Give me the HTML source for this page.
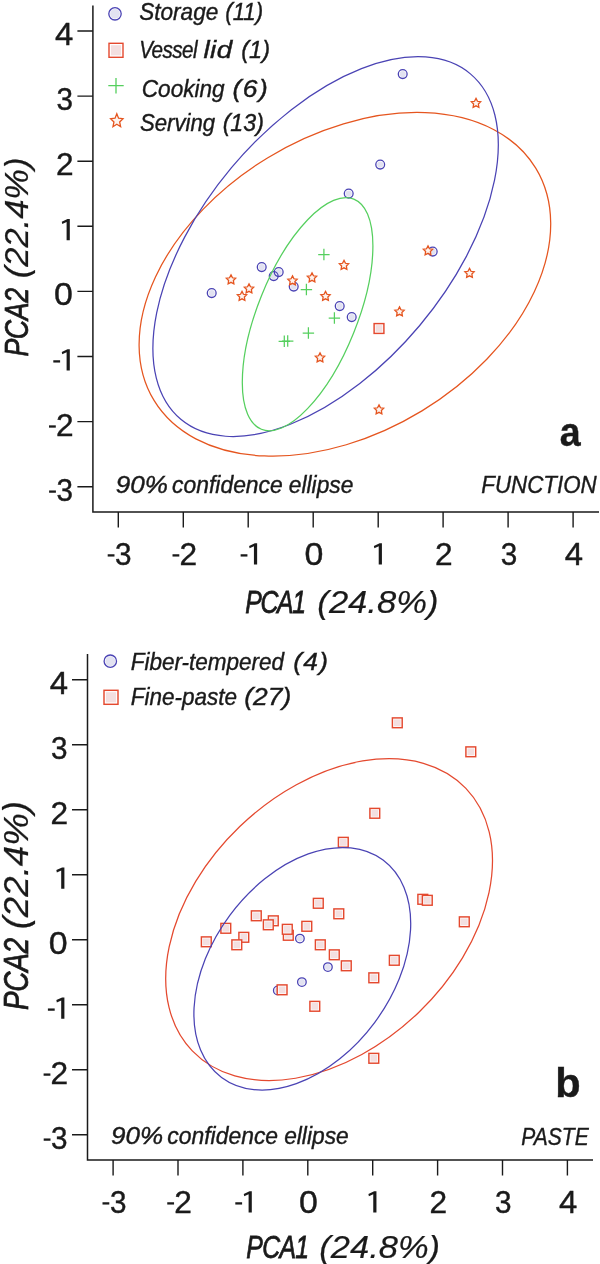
<!DOCTYPE html>
<html><head><meta charset="utf-8"><title>PCA</title>
<style>html,body{margin:0;padding:0;background:#fff}svg{display:block;will-change:transform}</style></head>
<body>
<svg width="600" height="1264" viewBox="0 0 600 1264" font-family="'Liberation Sans', sans-serif">
<rect width="600" height="1264" fill="#fff"/>
<path d="M92.9 5.5V512H599" fill="none" stroke="#1a1a1a" stroke-width="1.5"/>
<path d="M77.4 486.7H92.9M118.3 512V527.5" stroke="#1a1a1a" stroke-width="1.4" fill="none"/>
<rect x="49.10" y="490.45" width="6.8" height="2.3" fill="#1a1a1a"/><text transform="translate(56.49 500.70) scale(0.9733 1)" font-size="30.5" font-style="normal" font-weight="normal" fill="#1a1a1a" stroke="#1a1a1a" stroke-width="0.4">3</text>
<rect x="107.69" y="554.25" width="6.8" height="2.3" fill="#1a1a1a"/><text transform="translate(115.08 564.50) scale(0.9733 1)" font-size="30.5" font-style="normal" font-weight="normal" fill="#1a1a1a" stroke="#1a1a1a" stroke-width="0.4">3</text>
<path d="M77.4 421.6H92.9M183.3 512V527.5" stroke="#1a1a1a" stroke-width="1.4" fill="none"/>
<rect x="49.00" y="425.35" width="6.8" height="2.3" fill="#1a1a1a"/><text transform="translate(55.92 435.60) scale(1.0377 1)" font-size="30.5" font-style="normal" font-weight="normal" fill="#1a1a1a" stroke="#1a1a1a" stroke-width="0.4">2</text>
<rect x="172.51" y="554.25" width="6.8" height="2.3" fill="#1a1a1a"/><text transform="translate(179.43 564.50) scale(1.0377 1)" font-size="30.5" font-style="normal" font-weight="normal" fill="#1a1a1a" stroke="#1a1a1a" stroke-width="0.4">2</text>
<path d="M77.4 356.5H92.9M248.2 512V527.5" stroke="#1a1a1a" stroke-width="1.4" fill="none"/>
<rect x="53.30" y="360.25" width="6.8" height="2.3" fill="#1a1a1a"/><path d="M69.80 349.30V370.50H66.60V352.20L62.25 354.30L61.75 351.90L67.50 349.30Z" fill="#1a1a1a"/>
<rect x="240.63" y="554.25" width="6.8" height="2.3" fill="#1a1a1a"/><path d="M257.13 543.30V564.50H253.93V546.20L249.58 548.30L249.08 545.90L254.83 543.30Z" fill="#1a1a1a"/>
<path d="M77.4 291.4H92.9M313.2 512V527.5" stroke="#1a1a1a" stroke-width="1.4" fill="none"/>
<text transform="translate(54.04 305.40) scale(1.1124 1)" font-size="30.5" font-style="normal" font-weight="normal" fill="#1a1a1a" stroke="#1a1a1a" stroke-width="0.4">0</text>
<text transform="translate(304.44 564.50) scale(1.1124 1)" font-size="30.5" font-style="normal" font-weight="normal" fill="#1a1a1a" stroke="#1a1a1a" stroke-width="0.4">0</text>
<path d="M77.4 226.3H92.9M378.2 512V527.5" stroke="#1a1a1a" stroke-width="1.4" fill="none"/>
<path d="M69.80 219.10V240.30H66.60V222.00L62.25 224.10L61.75 221.70L67.50 219.10Z" fill="#1a1a1a"/>
<path d="M381.92 543.30V564.50H378.72V546.20L374.37 548.30L373.87 545.90L379.62 543.30Z" fill="#1a1a1a"/>
<path d="M77.4 161.2H92.9M443.1 512V527.5" stroke="#1a1a1a" stroke-width="1.4" fill="none"/>
<text transform="translate(55.92 175.20) scale(1.0377 1)" font-size="30.5" font-style="normal" font-weight="normal" fill="#1a1a1a" stroke="#1a1a1a" stroke-width="0.4">2</text>
<text transform="translate(435.06 564.50) scale(1.0377 1)" font-size="30.5" font-style="normal" font-weight="normal" fill="#1a1a1a" stroke="#1a1a1a" stroke-width="0.4">2</text>
<path d="M77.4 96.1H92.9M508.1 512V527.5" stroke="#1a1a1a" stroke-width="1.4" fill="none"/>
<text transform="translate(56.49 110.10) scale(0.9733 1)" font-size="30.5" font-style="normal" font-weight="normal" fill="#1a1a1a" stroke="#1a1a1a" stroke-width="0.4">3</text>
<text transform="translate(500.65 564.50) scale(0.9733 1)" font-size="30.5" font-style="normal" font-weight="normal" fill="#1a1a1a" stroke="#1a1a1a" stroke-width="0.4">3</text>
<path d="M77.4 31.0H92.9M573.1 512V527.5" stroke="#1a1a1a" stroke-width="1.4" fill="none"/>
<text transform="translate(55.06 45.00) scale(1.0777 1)" font-size="30.5" font-style="normal" font-weight="normal" fill="#1a1a1a" stroke="#1a1a1a" stroke-width="0.4">4</text>
<text transform="translate(564.74 564.50) scale(1.0777 1)" font-size="30.5" font-style="normal" font-weight="normal" fill="#1a1a1a" stroke="#1a1a1a" stroke-width="0.4">4</text>
<circle cx="402.7" cy="74.1" r="3.1" fill="#e2e2f1"/>
<circle cx="380.2" cy="164.6" r="3.1" fill="#e2e2f1"/>
<circle cx="348.7" cy="193.6" r="3.1" fill="#e2e2f1"/>
<circle cx="432.7" cy="251.6" r="3.1" fill="#e2e2f1"/>
<circle cx="261.7" cy="267.1" r="3.1" fill="#e2e2f1"/>
<circle cx="278.7" cy="272.1" r="3.1" fill="#e2e2f1"/>
<circle cx="273.7" cy="276.1" r="3.1" fill="#e2e2f1"/>
<circle cx="293.7" cy="286.6" r="3.1" fill="#e2e2f1"/>
<circle cx="211.7" cy="293.1" r="3.1" fill="#e2e2f1"/>
<circle cx="339.7" cy="306.1" r="3.1" fill="#e2e2f1"/>
<circle cx="351.7" cy="317.1" r="3.1" fill="#e2e2f1"/>
<circle cx="402.7" cy="74.1" r="4.4" fill="none" stroke="#4a43b4" stroke-width="1.3"/>
<circle cx="380.2" cy="164.6" r="4.4" fill="none" stroke="#4a43b4" stroke-width="1.3"/>
<circle cx="348.7" cy="193.6" r="4.4" fill="none" stroke="#4a43b4" stroke-width="1.3"/>
<circle cx="432.7" cy="251.6" r="4.4" fill="none" stroke="#4a43b4" stroke-width="1.3"/>
<circle cx="261.7" cy="267.1" r="4.4" fill="none" stroke="#4a43b4" stroke-width="1.3"/>
<circle cx="278.7" cy="272.1" r="4.4" fill="none" stroke="#4a43b4" stroke-width="1.3"/>
<circle cx="273.7" cy="276.1" r="4.4" fill="none" stroke="#4a43b4" stroke-width="1.3"/>
<circle cx="293.7" cy="286.6" r="4.4" fill="none" stroke="#4a43b4" stroke-width="1.3"/>
<circle cx="211.7" cy="293.1" r="4.4" fill="none" stroke="#4a43b4" stroke-width="1.3"/>
<circle cx="339.7" cy="306.1" r="4.4" fill="none" stroke="#4a43b4" stroke-width="1.3"/>
<circle cx="351.7" cy="317.1" r="4.4" fill="none" stroke="#4a43b4" stroke-width="1.3"/>
<rect x="374.1" y="323.6" width="9.8" height="9.8" fill="#fff" stroke="#e4492f" stroke-width="1.45"/><rect x="375.6" y="325.1" width="6.8" height="6.8" fill="#f3dfe0"/>
<path d="M318.2 254.5H329.6M323.9 248.8V260.2" stroke="#55cf5e" stroke-width="1.25" fill="none"/>
<path d="M300.7 289.5H312.1M306.4 283.8V295.2" stroke="#55cf5e" stroke-width="1.25" fill="none"/>
<path d="M328.7 318.0H340.1M334.4 312.3V323.7" stroke="#55cf5e" stroke-width="1.25" fill="none"/>
<path d="M302.7 333.0H314.1M308.4 327.3V338.7" stroke="#55cf5e" stroke-width="1.25" fill="none"/>
<path d="M278.6 341.3H290.0M284.3 335.6V347.0" stroke="#55cf5e" stroke-width="1.25" fill="none"/>
<path d="M282.0 341.0H293.4M287.7 335.3V346.7" stroke="#55cf5e" stroke-width="1.25" fill="none"/>
<polygon points="476.00,98.40 477.47,101.28 480.66,101.79 478.38,104.07 478.88,107.26 476.00,105.80 473.12,107.26 473.62,104.07 471.34,101.79 474.53,101.28" fill="#fdf3ee" stroke="#e5551f" stroke-width="1.3" stroke-linejoin="miter"/>
<polygon points="231.00,274.90 232.47,277.78 235.66,278.29 233.38,280.57 233.88,283.76 231.00,282.30 228.12,283.76 228.62,280.57 226.34,278.29 229.53,277.78" fill="#fdf3ee" stroke="#e5551f" stroke-width="1.3" stroke-linejoin="miter"/>
<polygon points="249.00,283.90 250.47,286.78 253.66,287.29 251.38,289.57 251.88,292.76 249.00,291.30 246.12,292.76 246.62,289.57 244.34,287.29 247.53,286.78" fill="#fdf3ee" stroke="#e5551f" stroke-width="1.3" stroke-linejoin="miter"/>
<polygon points="242.00,291.40 243.47,294.28 246.66,294.79 244.38,297.07 244.88,300.26 242.00,298.80 239.12,300.26 239.62,297.07 237.34,294.79 240.53,294.28" fill="#fdf3ee" stroke="#e5551f" stroke-width="1.3" stroke-linejoin="miter"/>
<polygon points="292.50,275.90 293.97,278.78 297.16,279.29 294.88,281.57 295.38,284.76 292.50,283.30 289.62,284.76 290.12,281.57 287.84,279.29 291.03,278.78" fill="#fdf3ee" stroke="#e5551f" stroke-width="1.3" stroke-linejoin="miter"/>
<polygon points="312.00,272.90 313.47,275.78 316.66,276.29 314.38,278.57 314.88,281.76 312.00,280.30 309.12,281.76 309.62,278.57 307.34,276.29 310.53,275.78" fill="#fdf3ee" stroke="#e5551f" stroke-width="1.3" stroke-linejoin="miter"/>
<polygon points="344.00,260.40 345.47,263.28 348.66,263.79 346.38,266.07 346.88,269.26 344.00,267.80 341.12,269.26 341.62,266.07 339.34,263.79 342.53,263.28" fill="#fdf3ee" stroke="#e5551f" stroke-width="1.3" stroke-linejoin="miter"/>
<polygon points="325.50,291.40 326.97,294.28 330.16,294.79 327.88,297.07 328.38,300.26 325.50,298.80 322.62,300.26 323.12,297.07 320.84,294.79 324.03,294.28" fill="#fdf3ee" stroke="#e5551f" stroke-width="1.3" stroke-linejoin="miter"/>
<polygon points="428.00,245.90 429.47,248.78 432.66,249.29 430.38,251.57 430.88,254.76 428.00,253.30 425.12,254.76 425.62,251.57 423.34,249.29 426.53,248.78" fill="#fdf3ee" stroke="#e5551f" stroke-width="1.3" stroke-linejoin="miter"/>
<polygon points="469.50,268.40 470.97,271.28 474.16,271.79 471.88,274.07 472.38,277.26 469.50,275.80 466.62,277.26 467.12,274.07 464.84,271.79 468.03,271.28" fill="#fdf3ee" stroke="#e5551f" stroke-width="1.3" stroke-linejoin="miter"/>
<polygon points="399.50,306.90 400.97,309.78 404.16,310.29 401.88,312.57 402.38,315.76 399.50,314.30 396.62,315.76 397.12,312.57 394.84,310.29 398.03,309.78" fill="#fdf3ee" stroke="#e5551f" stroke-width="1.3" stroke-linejoin="miter"/>
<polygon points="320.00,352.90 321.47,355.78 324.66,356.29 322.38,358.57 322.88,361.76 320.00,360.30 317.12,361.76 317.62,358.57 315.34,356.29 318.53,355.78" fill="#fdf3ee" stroke="#e5551f" stroke-width="1.3" stroke-linejoin="miter"/>
<polygon points="379.00,404.90 380.47,407.78 383.66,408.29 381.38,410.57 381.88,413.76 379.00,412.30 376.12,413.76 376.62,410.57 374.34,408.29 377.53,407.78" fill="#fdf3ee" stroke="#e5551f" stroke-width="1.3" stroke-linejoin="miter"/>
<ellipse cx="344.9" cy="284.3" rx="223.4" ry="148.2" transform="rotate(148.68 344.9 284.3)" fill="none" stroke="#e5551f" stroke-width="1.25"/>
<ellipse cx="325.6" cy="246.6" rx="225.4" ry="122.8" transform="rotate(129.97 325.6 246.6)" fill="none" stroke="#4a43b4" stroke-width="1.25"/>
<ellipse cx="307.6" cy="314.2" rx="124.0" ry="49.7" transform="rotate(111.89 307.6 314.2)" fill="none" stroke="#55cf5e" stroke-width="1.25"/>
<circle cx="115.0" cy="13.8" r="4.9" fill="#e2e2f1"/><circle cx="115.0" cy="13.8" r="6.2" fill="none" stroke="#4a43b4" stroke-width="1.3"/>
<rect x="109.0" y="43.3" width="14" height="14" fill="#fff" stroke="#e4492f" stroke-width="1.4"/><rect x="110.9" y="45.2" width="10.2" height="10.2" fill="#f3dfe0"/>
<path d="M108.3 85.7H123.7M116.0 78.0V93.4" stroke="#55cf5e" stroke-width="1.3" fill="none"/>
<polygon points="116.80,113.75 118.56,118.23 122.98,118.69 119.65,121.92 120.62,126.68 116.80,124.20 112.98,126.68 113.95,121.92 110.62,118.69 115.04,118.23" fill="#fdf3ee" stroke="#e5551f" stroke-width="1.3" stroke-linejoin="miter"/>
<text transform="translate(139.18 20.00) scale(0.9423 1)" font-size="24" font-style="italic" font-weight="normal" fill="#1a1a1a" stroke="#1a1a1a" stroke-width="0.4">Storage</text>
<text transform="translate(225.24 20.00) scale(0.9274 1)" font-size="24" font-style="italic" font-weight="normal" fill="#1a1a1a" stroke="#1a1a1a" stroke-width="0.4">(11)</text>
<text transform="translate(139.19 58.00) scale(0.8600 1)" font-size="24" font-style="italic" font-weight="normal" fill="#1a1a1a" letter-spacing="-0.664" stroke="#1a1a1a" stroke-width="0.4">Vessel</text>
<text transform="translate(203.38 58.00) scale(1.1600 1)" font-size="24" font-style="italic" font-weight="normal" fill="#1a1a1a" letter-spacing="0.436" stroke="#1a1a1a" stroke-width="0.4">lid</text>
<text transform="translate(241.18 58.00) scale(0.9828 1)" font-size="24" font-style="italic" font-weight="normal" fill="#1a1a1a" stroke="#1a1a1a" stroke-width="0.4">(1)</text>
<text transform="translate(141.76 96.75) scale(0.9420 1)" font-size="24" font-style="italic" font-weight="normal" fill="#1a1a1a" stroke="#1a1a1a" stroke-width="0.4">Cooking</text>
<text transform="translate(232.50 96.75) scale(1.1000 1)" font-size="24" font-style="italic" font-weight="normal" fill="#1a1a1a" letter-spacing="1.393" stroke="#1a1a1a" stroke-width="0.4">(6)</text>
<text transform="translate(139.89 131.25) scale(0.9252 1)" font-size="24" font-style="italic" font-weight="normal" fill="#1a1a1a" stroke="#1a1a1a" stroke-width="0.4">Serving</text>
<text transform="translate(222.65 131.25) scale(0.9668 1)" font-size="24" font-style="italic" font-weight="normal" fill="#1a1a1a" stroke="#1a1a1a" stroke-width="0.4">(13)</text>
<text transform="translate(115.79 493.20) scale(1.0844 1)" font-size="24" font-style="italic" font-weight="normal" fill="#1a1a1a" stroke="#1a1a1a" stroke-width="0.4">90%</text>
<text transform="translate(172.06 493.20) scale(0.9544 1)" font-size="24" font-style="italic" font-weight="normal" fill="#1a1a1a" stroke="#1a1a1a" stroke-width="0.4">confidence</text>
<text transform="translate(288.86 493.20) scale(0.9485 1)" font-size="24" font-style="italic" font-weight="normal" fill="#1a1a1a" stroke="#1a1a1a" stroke-width="0.4">ellipse</text>
<text transform="translate(481.23 492.80) scale(0.9319 1)" font-size="24" font-style="italic" font-weight="normal" fill="#1a1a1a" stroke="#1a1a1a" stroke-width="0.4">FUNCTION</text>
<text transform="translate(559.87 446.40) scale(0.9390 1)" font-size="40" font-style="normal" font-weight="bold" fill="#1a1a1a" stroke="#1a1a1a" stroke-width="0.4">a</text>
<text transform="translate(245.26 612.60) scale(0.8000 1)" font-size="31" font-style="italic" font-weight="normal" fill="#1a1a1a" letter-spacing="-1.641" stroke="#1a1a1a" stroke-width="0.75">PCA1</text>
<text transform="translate(317.36 612.60) scale(1.1163 1)" font-size="31" font-style="italic" font-weight="normal" fill="#1a1a1a" stroke="#1a1a1a" stroke-width="0.2">(24.8%)</text>
<text transform="translate(27.50 356.60) rotate(-90) scale(0.8000 1)" font-size="33.5" font-style="italic" font-weight="normal" fill="#1a1a1a" letter-spacing="-0.545" stroke="#1a1a1a" stroke-width="0.75">PCA2</text>
<text transform="translate(27.50 278.24) rotate(-90) scale(1.0295 1)" font-size="33.5" font-style="italic" font-weight="normal" fill="#1a1a1a" stroke="#1a1a1a" stroke-width="0.2">(22.4%)</text>
<path d="M87.5 654V1160H593" fill="none" stroke="#1a1a1a" stroke-width="1.5"/>
<path d="M72.0 1134.7H87.5M113.1 1160V1175.5" stroke="#1a1a1a" stroke-width="1.4" fill="none"/>
<rect x="43.70" y="1138.45" width="6.8" height="2.3" fill="#1a1a1a"/><text transform="translate(51.09 1148.70) scale(0.9733 1)" font-size="30.5" font-style="normal" font-weight="normal" fill="#1a1a1a" stroke="#1a1a1a" stroke-width="0.4">3</text>
<rect x="102.50" y="1202.25" width="6.8" height="2.3" fill="#1a1a1a"/><text transform="translate(109.89 1212.50) scale(0.9733 1)" font-size="30.5" font-style="normal" font-weight="normal" fill="#1a1a1a" stroke="#1a1a1a" stroke-width="0.4">3</text>
<path d="M72.0 1069.7H87.5M178.0 1160V1175.5" stroke="#1a1a1a" stroke-width="1.4" fill="none"/>
<rect x="43.60" y="1073.45" width="6.8" height="2.3" fill="#1a1a1a"/><text transform="translate(50.52 1083.70) scale(1.0377 1)" font-size="30.5" font-style="normal" font-weight="normal" fill="#1a1a1a" stroke="#1a1a1a" stroke-width="0.4">2</text>
<rect x="167.25" y="1202.25" width="6.8" height="2.3" fill="#1a1a1a"/><text transform="translate(174.17 1212.50) scale(1.0377 1)" font-size="30.5" font-style="normal" font-weight="normal" fill="#1a1a1a" stroke="#1a1a1a" stroke-width="0.4">2</text>
<path d="M72.0 1004.7H87.5M242.9 1160V1175.5" stroke="#1a1a1a" stroke-width="1.4" fill="none"/>
<rect x="47.90" y="1008.45" width="6.8" height="2.3" fill="#1a1a1a"/><path d="M64.40 997.50V1018.70H61.20V1000.40L56.85 1002.50L56.35 1000.10L62.10 997.50Z" fill="#1a1a1a"/>
<rect x="235.30" y="1202.25" width="6.8" height="2.3" fill="#1a1a1a"/><path d="M251.80 1191.30V1212.50H248.60V1194.20L244.25 1196.30L243.75 1193.90L249.50 1191.30Z" fill="#1a1a1a"/>
<path d="M72.0 939.7H87.5M307.8 1160V1175.5" stroke="#1a1a1a" stroke-width="1.4" fill="none"/>
<text transform="translate(48.64 953.70) scale(1.1124 1)" font-size="30.5" font-style="normal" font-weight="normal" fill="#1a1a1a" stroke="#1a1a1a" stroke-width="0.4">0</text>
<text transform="translate(299.04 1212.50) scale(1.1124 1)" font-size="30.5" font-style="normal" font-weight="normal" fill="#1a1a1a" stroke="#1a1a1a" stroke-width="0.4">0</text>
<path d="M72.0 874.7H87.5M372.7 1160V1175.5" stroke="#1a1a1a" stroke-width="1.4" fill="none"/>
<path d="M64.40 867.50V888.70H61.20V870.40L56.85 872.50L56.35 870.10L62.10 867.50Z" fill="#1a1a1a"/>
<path d="M376.45 1191.30V1212.50H373.25V1194.20L368.90 1196.30L368.40 1193.90L374.15 1191.30Z" fill="#1a1a1a"/>
<path d="M72.0 809.7H87.5M437.6 1160V1175.5" stroke="#1a1a1a" stroke-width="1.4" fill="none"/>
<text transform="translate(50.52 823.70) scale(1.0377 1)" font-size="30.5" font-style="normal" font-weight="normal" fill="#1a1a1a" stroke="#1a1a1a" stroke-width="0.4">2</text>
<text transform="translate(429.52 1212.50) scale(1.0377 1)" font-size="30.5" font-style="normal" font-weight="normal" fill="#1a1a1a" stroke="#1a1a1a" stroke-width="0.4">2</text>
<path d="M72.0 744.7H87.5M502.5 1160V1175.5" stroke="#1a1a1a" stroke-width="1.4" fill="none"/>
<text transform="translate(51.09 758.70) scale(0.9733 1)" font-size="30.5" font-style="normal" font-weight="normal" fill="#1a1a1a" stroke="#1a1a1a" stroke-width="0.4">3</text>
<text transform="translate(495.04 1212.50) scale(0.9733 1)" font-size="30.5" font-style="normal" font-weight="normal" fill="#1a1a1a" stroke="#1a1a1a" stroke-width="0.4">3</text>
<path d="M72.0 679.7H87.5M567.4 1160V1175.5" stroke="#1a1a1a" stroke-width="1.4" fill="none"/>
<text transform="translate(49.66 693.70) scale(1.0777 1)" font-size="30.5" font-style="normal" font-weight="normal" fill="#1a1a1a" stroke="#1a1a1a" stroke-width="0.4">4</text>
<text transform="translate(559.06 1212.50) scale(1.0777 1)" font-size="30.5" font-style="normal" font-weight="normal" fill="#1a1a1a" stroke="#1a1a1a" stroke-width="0.4">4</text>
<circle cx="299.9" cy="938.6" r="3.0" fill="#e2e2f1"/><circle cx="299.9" cy="938.6" r="4.3" fill="none" stroke="#4a43b4" stroke-width="1.3"/>
<circle cx="327.9" cy="967.1" r="3.0" fill="#e2e2f1"/><circle cx="327.9" cy="967.1" r="4.3" fill="none" stroke="#4a43b4" stroke-width="1.3"/>
<circle cx="301.9" cy="982.1" r="3.0" fill="#e2e2f1"/><circle cx="301.9" cy="982.1" r="4.3" fill="none" stroke="#4a43b4" stroke-width="1.3"/>
<circle cx="277.8" cy="990.4" r="3.0" fill="#e2e2f1"/><circle cx="277.8" cy="990.4" r="4.3" fill="none" stroke="#4a43b4" stroke-width="1.3"/>
<rect x="392.4" y="717.9" width="9.8" height="9.8" fill="#fff" stroke="#e4492f" stroke-width="1.45"/><rect x="393.9" y="719.4" width="6.8" height="6.8" fill="#f3dfe0"/>
<rect x="369.9" y="808.4" width="9.8" height="9.8" fill="#fff" stroke="#e4492f" stroke-width="1.45"/><rect x="371.4" y="809.9" width="6.8" height="6.8" fill="#f3dfe0"/>
<rect x="338.4" y="837.4" width="9.8" height="9.8" fill="#fff" stroke="#e4492f" stroke-width="1.45"/><rect x="339.9" y="838.9" width="6.8" height="6.8" fill="#f3dfe0"/>
<rect x="251.4" y="910.9" width="9.8" height="9.8" fill="#fff" stroke="#e4492f" stroke-width="1.45"/><rect x="252.9" y="912.4" width="6.8" height="6.8" fill="#f3dfe0"/>
<rect x="268.4" y="915.9" width="9.8" height="9.8" fill="#fff" stroke="#e4492f" stroke-width="1.45"/><rect x="269.9" y="917.4" width="6.8" height="6.8" fill="#f3dfe0"/>
<rect x="263.4" y="919.9" width="9.8" height="9.8" fill="#fff" stroke="#e4492f" stroke-width="1.45"/><rect x="264.9" y="921.4" width="6.8" height="6.8" fill="#f3dfe0"/>
<rect x="283.4" y="930.4" width="9.8" height="9.8" fill="#fff" stroke="#e4492f" stroke-width="1.45"/><rect x="284.9" y="931.9" width="6.8" height="6.8" fill="#f3dfe0"/>
<rect x="201.4" y="936.9" width="9.8" height="9.8" fill="#fff" stroke="#e4492f" stroke-width="1.45"/><rect x="202.9" y="938.4" width="6.8" height="6.8" fill="#f3dfe0"/>
<rect x="329.4" y="949.9" width="9.8" height="9.8" fill="#fff" stroke="#e4492f" stroke-width="1.45"/><rect x="330.9" y="951.4" width="6.8" height="6.8" fill="#f3dfe0"/>
<rect x="341.4" y="960.9" width="9.8" height="9.8" fill="#fff" stroke="#e4492f" stroke-width="1.45"/><rect x="342.9" y="962.4" width="6.8" height="6.8" fill="#f3dfe0"/>
<rect x="465.9" y="746.9" width="9.8" height="9.8" fill="#fff" stroke="#e4492f" stroke-width="1.45"/><rect x="467.4" y="748.4" width="6.8" height="6.8" fill="#f3dfe0"/>
<rect x="220.9" y="923.4" width="9.8" height="9.8" fill="#fff" stroke="#e4492f" stroke-width="1.45"/><rect x="222.4" y="924.9" width="6.8" height="6.8" fill="#f3dfe0"/>
<rect x="238.9" y="932.4" width="9.8" height="9.8" fill="#fff" stroke="#e4492f" stroke-width="1.45"/><rect x="240.4" y="933.9" width="6.8" height="6.8" fill="#f3dfe0"/>
<rect x="231.9" y="939.9" width="9.8" height="9.8" fill="#fff" stroke="#e4492f" stroke-width="1.45"/><rect x="233.4" y="941.4" width="6.8" height="6.8" fill="#f3dfe0"/>
<rect x="282.4" y="924.4" width="9.8" height="9.8" fill="#fff" stroke="#e4492f" stroke-width="1.45"/><rect x="283.9" y="925.9" width="6.8" height="6.8" fill="#f3dfe0"/>
<rect x="301.9" y="921.4" width="9.8" height="9.8" fill="#fff" stroke="#e4492f" stroke-width="1.45"/><rect x="303.4" y="922.9" width="6.8" height="6.8" fill="#f3dfe0"/>
<rect x="333.9" y="908.9" width="9.8" height="9.8" fill="#fff" stroke="#e4492f" stroke-width="1.45"/><rect x="335.4" y="910.4" width="6.8" height="6.8" fill="#f3dfe0"/>
<rect x="315.4" y="939.9" width="9.8" height="9.8" fill="#fff" stroke="#e4492f" stroke-width="1.45"/><rect x="316.9" y="941.4" width="6.8" height="6.8" fill="#f3dfe0"/>
<rect x="417.9" y="894.4" width="9.8" height="9.8" fill="#fff" stroke="#e4492f" stroke-width="1.45"/><rect x="419.4" y="895.9" width="6.8" height="6.8" fill="#f3dfe0"/>
<rect x="459.4" y="916.9" width="9.8" height="9.8" fill="#fff" stroke="#e4492f" stroke-width="1.45"/><rect x="460.9" y="918.4" width="6.8" height="6.8" fill="#f3dfe0"/>
<rect x="389.4" y="955.4" width="9.8" height="9.8" fill="#fff" stroke="#e4492f" stroke-width="1.45"/><rect x="390.9" y="956.9" width="6.8" height="6.8" fill="#f3dfe0"/>
<rect x="309.9" y="1001.4" width="9.8" height="9.8" fill="#fff" stroke="#e4492f" stroke-width="1.45"/><rect x="311.4" y="1002.9" width="6.8" height="6.8" fill="#f3dfe0"/>
<rect x="368.9" y="1053.4" width="9.8" height="9.8" fill="#fff" stroke="#e4492f" stroke-width="1.45"/><rect x="370.4" y="1054.9" width="6.8" height="6.8" fill="#f3dfe0"/>
<rect x="368.9" y="972.9" width="9.8" height="9.8" fill="#fff" stroke="#e4492f" stroke-width="1.45"/><rect x="370.4" y="974.4" width="6.8" height="6.8" fill="#f3dfe0"/>
<rect x="313.4" y="898.4" width="9.8" height="9.8" fill="#fff" stroke="#e4492f" stroke-width="1.45"/><rect x="314.9" y="899.9" width="6.8" height="6.8" fill="#f3dfe0"/>
<rect x="277.2" y="984.9" width="9.8" height="9.8" fill="#fff" stroke="#e4492f" stroke-width="1.45"/><rect x="278.7" y="986.4" width="6.8" height="6.8" fill="#f3dfe0"/>
<rect x="422.4" y="895.4" width="9.8" height="9.8" fill="#fff" stroke="#e4492f" stroke-width="1.45"/><rect x="423.9" y="896.9" width="6.8" height="6.8" fill="#f3dfe0"/>
<ellipse cx="329.1" cy="919.6" rx="189.6" ry="129.0" transform="rotate(136.18 329.1 919.6)" fill="none" stroke="#e4492f" stroke-width="1.25"/>
<ellipse cx="302.3" cy="968.8" rx="135.4" ry="90.1" transform="rotate(126.61 302.3 968.8)" fill="none" stroke="#4a43b4" stroke-width="1.25"/>
<circle cx="110.3" cy="661.2" r="4.9" fill="#e2e2f1"/><circle cx="110.3" cy="661.2" r="6.2" fill="none" stroke="#4a43b4" stroke-width="1.3"/>
<rect x="104.0" y="690.3" width="14" height="14" fill="#fff" stroke="#e4492f" stroke-width="1.45"/><rect x="105.9" y="692.2" width="10.2" height="10.2" fill="#f3dfe0"/>
<text transform="translate(130.72 669.75) scale(0.9379 1)" font-size="24" font-style="italic" font-weight="normal" fill="#1a1a1a" stroke="#1a1a1a" stroke-width="0.4">Fiber-tempered</text>
<text transform="translate(293.25 669.75) scale(1.1000 1)" font-size="24" font-style="italic" font-weight="normal" fill="#1a1a1a" letter-spacing="1.120" stroke="#1a1a1a" stroke-width="0.4">(4)</text>
<text transform="translate(130.72 704.60) scale(0.9393 1)" font-size="24" font-style="italic" font-weight="normal" fill="#1a1a1a" stroke="#1a1a1a" stroke-width="0.4">Fine-paste</text>
<text transform="translate(244.25 704.60) scale(1.1000 1)" font-size="24" font-style="italic" font-weight="normal" fill="#1a1a1a" letter-spacing="0.064" stroke="#1a1a1a" stroke-width="0.4">(27)</text>
<text transform="translate(111.09 1144.40) scale(1.0844 1)" font-size="24" font-style="italic" font-weight="normal" fill="#1a1a1a" stroke="#1a1a1a" stroke-width="0.4">90%</text>
<text transform="translate(167.36 1144.40) scale(0.9544 1)" font-size="24" font-style="italic" font-weight="normal" fill="#1a1a1a" stroke="#1a1a1a" stroke-width="0.4">confidence</text>
<text transform="translate(284.16 1144.40) scale(0.9485 1)" font-size="24" font-style="italic" font-weight="normal" fill="#1a1a1a" stroke="#1a1a1a" stroke-width="0.4">ellipse</text>
<text transform="translate(521.37 1144.60) scale(0.8765 1)" font-size="24" font-style="italic" font-weight="normal" fill="#1a1a1a" stroke="#1a1a1a" stroke-width="0.4">PASTE</text>
<text transform="translate(555.30 1097.00) scale(1.0396 1)" font-size="40" font-style="normal" font-weight="bold" fill="#1a1a1a" stroke="#1a1a1a" stroke-width="0.4">b</text>
<text transform="translate(246.26 1257.60) scale(0.8000 1)" font-size="31" font-style="italic" font-weight="normal" fill="#1a1a1a" letter-spacing="-0.807" stroke="#1a1a1a" stroke-width="0.75">PCA1</text>
<text transform="translate(319.36 1257.60) scale(1.1125 1)" font-size="31" font-style="italic" font-weight="normal" fill="#1a1a1a" stroke="#1a1a1a" stroke-width="0.2">(24.8%)</text>
<text transform="translate(27.50 1010.04) rotate(-90) scale(0.8000 1)" font-size="35" font-style="italic" font-weight="normal" fill="#1a1a1a" letter-spacing="-0.412" stroke="#1a1a1a" stroke-width="0.75">PCA2</text>
<text transform="translate(27.50 929.34) rotate(-90) scale(1.0477 1)" font-size="35" font-style="italic" font-weight="normal" fill="#1a1a1a" stroke="#1a1a1a" stroke-width="0.2">(22.4%)</text>
</svg>
</body></html>
